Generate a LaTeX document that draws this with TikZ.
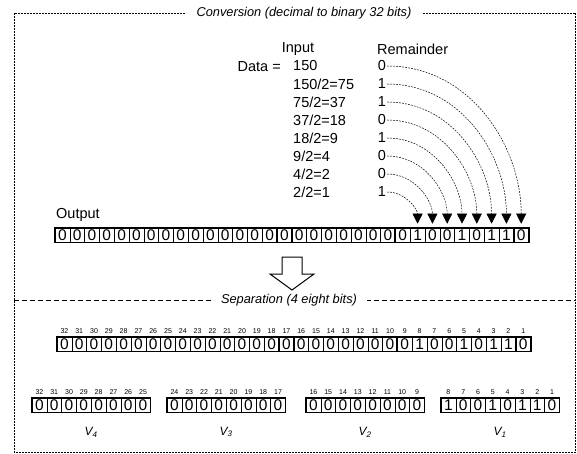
\documentclass[tikz,border=0pt]{standalone}
\usepackage{fontspec}
\setmainfont{Liberation Sans}
\usetikzlibrary{positioning,arrows.meta,calc}

\begin{document}
\begin{tikzpicture}[x=1pt,y=-1pt,
  txt/.style={font=\fontsize{14.5}{17}\selectfont,inner sep=1pt},
  sectcap/.style={font=\fontsize{12.8}{14}\selectfont\itshape,fill=white,inner xsep=10pt,inner ysep=1pt},
  bit/.style={draw,line width=0.6pt,minimum width=14.8pt,minimum height=14pt,inner sep=0pt,font=\fontsize{15.5}{15.5}\selectfont},
  idx/.style={font=\fontsize{7}{8}\selectfont,inner sep=0pt},
  vlab/.style={font=\fontsize{12}{14}\selectfont\itshape},
  link/.style={line width=0.5pt,dash pattern=on 1.8pt off 1.2pt},
  heavy/.style={line width=1.3pt}]
\useasboundingbox (0,0) rectangle (577,454);
% frame and the two section captions
\draw[line width=0.5pt,dash pattern=on 2pt off 1pt] (14,13) rectangle (575.5,452);
\draw[line width=0.6pt,dash pattern=on 5pt off 3pt] (14,300) -- (575.5,300);
\node[sectcap,inner xsep=12pt] (convcap) at (304,13) {Conversion (decimal to binary 32 bits)};
\node[sectcap] (sepcap) at (289,300) {Separation (4 eight bits)};
% division table
\node[txt] (inhead) at (298,49) {Input};
\node[txt,anchor=west] (remhead) at (376,49) {Remainder};
\node[txt,anchor=east] (data) at (282,67) {Data =};
\foreach \i/\v/\r in {1/{150}/0,2/{150/2=75}/1,3/{75/2=37}/1,4/{37/2=18}/0,
                      5/{18/2=9}/1,6/{9/2=4}/0,7/{4/2=2}/0,8/{2/2=1}/1}{
  \node[txt,anchor=west] (in\i) at (292,{66+18*(\i-1)}) {\v};
  \node[txt] (rem\i) at (382,{66+18*(\i-1)}) {\r};
}
% output register, bit 1 on the right
\node[txt,anchor=west] (outlab) at (55,215) {Output};
\foreach \v [count=\b] in {0,1,1,0,1,0,0,1,0,0,0,0,0,0,0,0,0,0,0,0,0,0,0,0,0,0,0,0,0,0,0,0}{
  \node[bit] (out\b) at ({62.4+(32-\b)*14.8},235) {\v};
  \node[bit] (all\b) at ({64.4+(32-\b)*14.8},344) {\v};
  \node[idx,above=3pt of all\b] (nall\b) {\b};
}
\draw[heavy] (out32.north west) rectangle (out1.south east);
\draw[heavy] (all32.north west) rectangle (all1.south east);
\foreach \b in {25,17,9,1}{
  \draw[heavy] (out\b.north west) rectangle (out\b.south east);
  \draw[heavy] (all\b.north west) rectangle (all\b.south east);
}
% remainders drop into the register
\foreach \i in {1,...,8}{
  \draw[link,-{Triangle[width=10pt,length=10pt]},shorten >=4pt] (rem\i.east) to[out=0,in=90] (out\i.north);
}
% hollow down arrow
\draw[line width=1pt,fill=white] (282,257) -- (302,257) -- (302,274) -- (314,274) -- (292,290) -- (270,274) -- (282,274) -- cycle;
% four bytes V4..V1
\foreach \g/\xl/\vals in {4/32/{0,0,0,0,0,0,0,0},3/167/{0,0,0,0,0,0,0,0},
                          2/306/{0,0,0,0,0,0,0,0},1/441/{0,1,1,0,1,0,0,1}}{
  \foreach \v [count=\k] in \vals{
    \pgfmathtruncatemacro\b{8*(\g-1)+\k}
    \node[bit] (g\g-\k) at ({\xl+7.4+(8-\k)*14.8},405) {\v};
    \node[idx,above=3pt of g\g-\k] (ng\g-\k) {\b};
  }
  \draw[heavy] (g\g-8.north west) rectangle (g\g-1.south east);
  \draw[heavy] (g\g-1.north west) rectangle (g\g-1.south east);
  \node[vlab] (v\g) at ({\xl+59.2},432) {V\textsubscript{\g}};
}
\end{tikzpicture}
\end{document}
